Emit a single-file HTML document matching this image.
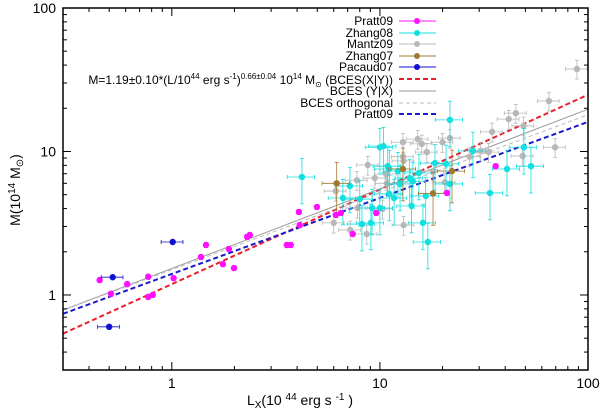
<!DOCTYPE html>
<html><head><meta charset="utf-8"><style>
body{margin:0;background:#fff;}
svg{display:block;font-family:"Liberation Sans",sans-serif;}
</style></head><body>
<svg id="c" width="600" height="411"></svg>
<script>
const prattL=[0.45,0.51,0.61,0.77,0.77,0.81,1.02,1.38,1.46,1.76,1.88,1.99,2.3,2.37,3.57,3.73,4.08,4.12,4.98,6.14,6.49,7.4,9.6,21,36];
const prattM=[1.27,1.02,1.19,1.34,0.97,1.0,1.31,1.84,2.23,1.64,2.09,1.54,2.54,2.62,2.23,2.23,3.79,3.07,4.1,3.61,3.73,2.66,3.73,5.14,7.9];
const zhang08L=[4.22,21.7,10,10.4,7.18,6.64,8.0,9.05,8.2,10.9,11.1,12.2,11.7,14.2,14.4,16.1,16.6,17.0,18.4,20.8,21.7,28,33.8,40.8,49.2,53.2,11.1,12.5,13.9,15.4,10,9.17];
const zhang08M=[6.64,16.6,10.7,10.9,5.75,4.74,4.66,3.18,3.12,7.9,7.55,7.3,4.74,4.17,6.2,3.18,4.9,2.34,8.3,8.2,5.94,10.1,5.14,7.55,10.7,7.9,5.06,5.94,6.53,7.08,4.04,4.04];
const mantzL=[88.5,64.9,45,41.6,34.6,49,69.5,48.5,33.3,30.5,27,21.7,20,15.2,15.9,16.8,12.9,12.9,13.0,8.75,9.45,7.75,10.7,10.8,6.14,7.8,6.0,7.2,8.65,13,10.3,20.5,18.1];
const mantzM=[37.6,22.5,18.5,16.8,13.7,15.1,10.7,9.3,9.9,10.1,9.2,12.4,11.6,12.2,11.3,9.9,11.6,9.2,8.6,8.05,6.53,6.3,6.97,6.0,5.3,4.04,3.18,2.84,2.66,3.07,3.98,6.1,7.3];
const zhang07L=[6.2,12.9,18,22.2];
const zhang07M=[6.0,7.55,5.1,7.3];
const pacaudL=[0.52,1.01,0.50];
const pacaudM=[1.33,2.34,0.6];
const tickVals=[1,10,100];
const tickLabels=["1","10","100"];
// fits: [norm, slope]
const fitNorm=[1.19,1.53,1.5,1.40];
const fitSlope=[0.66,0.555,0.54,0.53];

const X0=63,X1=588,Y0=370,Y1=8,LMIN=0.3,LMAX=100;
const sx=v=>X0+(Math.log10(v)-Math.log10(LMIN))/(Math.log10(LMAX)-Math.log10(LMIN))*(X1-X0);
const sy=v=>Y0-(Math.log10(v)-Math.log10(LMIN))/(Math.log10(LMAX)-Math.log10(LMIN))*(Y0-Y1);
const svg=document.getElementById('c');
const NS='http://www.w3.org/2000/svg';
function mk(t,a,p){const e=document.createElementNS(NS,t);for(const k in a)e.setAttribute(k,a[k]);(p||svg).appendChild(e);return e;}

// fit lines
const fitStyles=[{c:'#e8202a',w:2,d:'5,3'},{c:'#999',w:1,d:''},{c:'#bbb',w:1,d:'4,3'},{c:'#1a1acc',w:2,d:'5,3'}];
const fitNames=['fit-bces-xy','fit-bces-yx','fit-bces-orthogonal','fit-pratt09'];
const gFit=mk('g',{});
for(let i=0;i<fitNorm.length;i++){
  const la=LMIN,lb=LMAX;
  const ln=mk('line',{x1:sx(la),y1:sy(fitNorm[i]*Math.pow(la,fitSlope[i])),x2:sx(lb),y2:sy(fitNorm[i]*Math.pow(lb,fitSlope[i])),stroke:fitStyles[i].c,'stroke-width':fitStyles[i].w,'stroke-dasharray':fitStyles[i].d},gFit);
  
  
}

function series(L,M,col,ex,ey,name){
  const g=mk('g',{});
  
  
  for(let i=0;i<L.length;i++){
    const x=sx(L[i]),y=sy(M[i]);
    if(ex>0){mk('line',{x1:sx(L[i]*(1-ex)),x2:sx(L[i]*(1+ex)),y1:y,y2:y,stroke:col,'stroke-width':0.8},g);
      mk('line',{x1:sx(L[i]*(1-ex)),x2:sx(L[i]*(1-ex)),y1:y-2,y2:y+2,stroke:col,'stroke-width':0.8},g);
      mk('line',{x1:sx(L[i]*(1+ex)),x2:sx(L[i]*(1+ex)),y1:y-2,y2:y+2,stroke:col,'stroke-width':0.8},g);}
    if(ey>0){mk('line',{x1:x,x2:x,y1:sy(M[i]*(1-ey)),y2:sy(M[i]*(1+ey)),stroke:col,'stroke-width':0.8},g);
      mk('line',{x1:x-2,x2:x+2,y1:sy(M[i]*(1-ey)),y2:sy(M[i]*(1-ey)),stroke:col,'stroke-width':0.8},g);
      mk('line',{x1:x-2,x2:x+2,y1:sy(M[i]*(1+ey)),y2:sy(M[i]*(1+ey)),stroke:col,'stroke-width':0.8},g);}
    const c=mk('circle',{cx:x,cy:y,r:3.2,fill:col},g);
    
    
  }
}
series(mantzL,mantzM,'#b8b8b8',0.12,0.15,'mantz09');
series(zhang08L,zhang08M,'#10e0e0',0.15,0.35,'zhang08');
series(zhang07L,zhang07M,'#a07830',0.15,0.4,'zhang07');
series(prattL,prattM,'#ff10ff',0,0.04,'pratt09');
series(pacaudL,pacaudM,'#1010d0',0.12,0,'pacaud07');

// frame
const fr=mk('rect',{x:X0,y:Y1,width:X1-X0,height:Y0-Y1,fill:'none',stroke:'#000','stroke-width':1.5});


// ticks
for(let d=0.1;d<=100;d*=10){for(let m=1;m<10;m++){const v=d*m; if(v<LMIN-1e-9||v>LMAX+1e-9)continue;
  const len=(m===1)?8:4;
  const x=sx(v),y=sy(v);
  mk('line',{x1:x,x2:x,y1:Y0,y2:Y0-len,stroke:'#000'});
  mk('line',{x1:x,x2:x,y1:Y1,y2:Y1+len,stroke:'#000'});
  mk('line',{x1:X0,x2:X0+len,y1:y,y2:y,stroke:'#000'});
  mk('line',{x1:X1,x2:X1-len,y1:y,y2:y,stroke:'#000'});
}}
for(let i=0;i<tickVals.length;i++){
  const t=mk('text',{x:sx(tickVals[i]),y:388,'font-size':14,'text-anchor':'middle'});t.textContent=tickLabels[i];
  
  const u=mk('text',{x:56,y:sy(tickVals[i])+5,'font-size':14,'text-anchor':'end'});u.textContent=tickLabels[i];
  
}
</script>
<svg width="600" height="411" style="position:absolute;left:0;top:0" font-family="Liberation Sans, sans-serif">
 <text x="300" y="405" font-size="14" text-anchor="middle">L<tspan font-size="10" dy="3">X</tspan><tspan dy="-3">(10 </tspan><tspan font-size="10" dy="-5">44</tspan><tspan dy="5"> erg s </tspan><tspan font-size="10" dy="-5">   -1</tspan><tspan dy="5"> )</tspan></text>
 <text transform="translate(20,190) rotate(-90)" font-size="14" text-anchor="middle">M(10<tspan font-size="10" dy="-5">14</tspan><tspan dy="5"> M</tspan><tspan font-size="10" dy="3">⊙</tspan><tspan dy="-3">)</tspan></text>
 <g font-size="12" text-anchor="end">
  <g><text x="393" y="25">Pratt09</text><line x1="399" x2="436" y1="21" y2="21" stroke="#ff10ff"/><circle cx="417" cy="21" r="3" fill="#ff10ff"/></g>
  <g><text x="393" y="37">Zhang08</text><line x1="399" x2="436" y1="33" y2="33" stroke="#10e0e0"/><circle cx="417" cy="33" r="3" fill="#10e0e0"/></g>
  <g><text x="393" y="48">Mantz09</text><line x1="399" x2="436" y1="44" y2="44" stroke="#b8b8b8"/><circle cx="417" cy="44" r="3" fill="#b8b8b8"/></g>
  <g><text x="393" y="60">Zhang07</text><line x1="399" x2="436" y1="56" y2="56" stroke="#a07830"/><circle cx="417" cy="56" r="3" fill="#a07830"/></g>
  <g><text x="393" y="71">Pacaud07</text><line x1="399" x2="436" y1="67" y2="67" stroke="#1010d0"/><circle cx="417" cy="67" r="3" fill="#1010d0"/></g>
  <g><text x="393" y="84">M=1.19±0.10*(L/10<tspan font-size="8" dy="-5">44</tspan><tspan dy="5"> erg s</tspan><tspan font-size="8" dy="-5">-1</tspan><tspan dy="5">)</tspan><tspan font-size="8" dy="-5">0.66±0.04</tspan><tspan dy="5"> 10</tspan><tspan font-size="8" dy="-5">14</tspan><tspan dy="5"> M</tspan><tspan font-size="8" dy="3">⊙</tspan><tspan dy="-3"> (BCES(X|Y))</tspan></text><line x1="399" x2="436" y1="79" y2="79" stroke="#e8202a" stroke-width="2" stroke-dasharray="5,3"/></g>
  <g><text x="393" y="95">BCES (Y|X)</text><line x1="399" x2="436" y1="91" y2="91" stroke="#999"/></g>
  <g><text x="393" y="107">BCES orthogonal</text><line x1="399" x2="436" y1="103" y2="103" stroke="#bbb" stroke-dasharray="4,3"/></g>
  <g><text x="393" y="118">Pratt09</text><line x1="399" x2="436" y1="114" y2="114" stroke="#1a1acc" stroke-width="2" stroke-dasharray="5,3"/></g>
 </g>
</svg>
</body></html>
